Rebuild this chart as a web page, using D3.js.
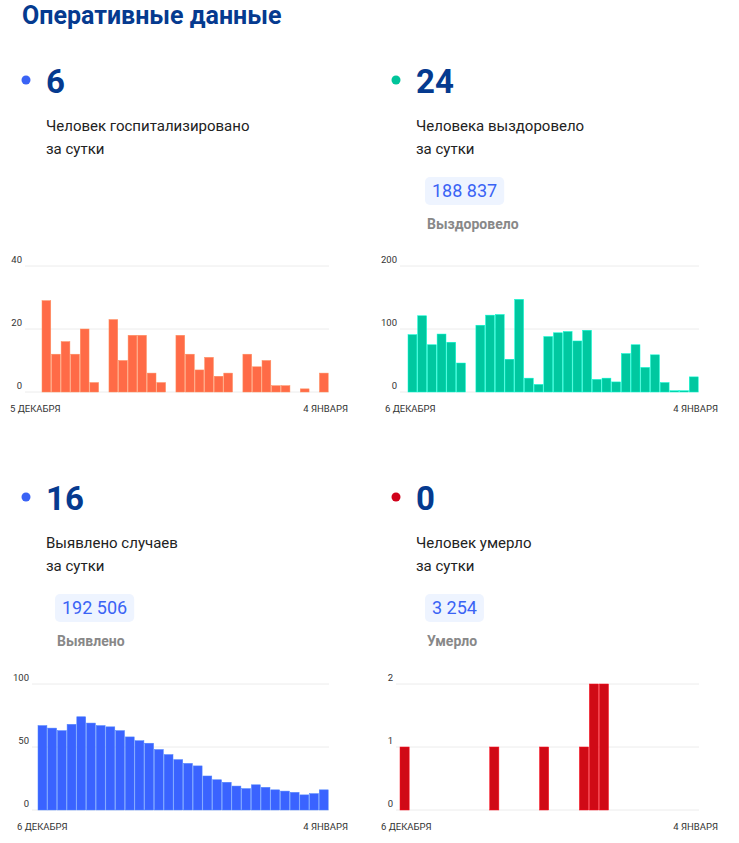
<!DOCTYPE html>
<html><head><meta charset="utf-8">
<script src="https://cdn.jsdelivr.net/npm/d3@7"></script>
<style>
body{margin:0;background:#fff;font-family:Roboto,sans-serif;}
</style></head>
<body>
<svg id="c" width="739" height="843"></svg>
<script>
// данные с графиков (по дням)
var hospital = [29,12,16,12,20,3,0,23,10,18,18,6,3,0,18,12,7,11,5,6,0,12,8,10,2,2,0,1,0,6];
var recovered = [91,121,75,92,79,46,0,106,122,123,52,147,22,12,88,94,96,81,98,20,22,16,61,75,39,59,15,2,2,24];
var cases = [67,65,63,68,74,69,67,66,63,58,55,53,48,44,40,37,35,27,24,22,19,17,20,18,16,15,14,12,13,16];
var deaths = [1,0,0,0,0,0,0,0,0,1,0,0,0,0,1,0,0,0,1,2,2,0,0,0,0,0,0,0,0,0];

var panels = [
  {x:22, y:0, dot:"#3a63f5", big:"6", l1:"Человек госпитализировано", l2:"за сутки", total:null,
   data:hospital, color:"#ff6b47", max:40, ticks:[0,20,40], x0:42, x1:329, yb:392, from:"5 ДЕКАБРЯ", to:"4 ЯНВАРЯ", gx:25},
  {x:392, y:0, dot:"#00c49a", big:"24", l1:"Человека выздоровело", l2:"за сутки", total:"188 837", tl:"Выздоровело",
   data:recovered, color:"#00c8a0", max:200, ticks:[0,100,200], x0:408, x1:699, yb:392, from:"6 ДЕКАБРЯ", to:"4 ЯНВАРЯ", gx:400},
  {x:22, y:417, dot:"#3a63f5", big:"16", l1:"Выявлено случаев", l2:"за сутки", total:"192 506", tl:"Выявлено",
   data:cases, color:"#3a63ff", max:100, ticks:[0,50,100], x0:38, x1:329, yb:810, from:"6 ДЕКАБРЯ", to:"4 ЯНВАРЯ", gx:32},
  {x:392, y:417, dot:"#d0021b", big:"0", l1:"Человек умерло", l2:"за сутки", total:"3 254", tl:"Умерло",
   data:deaths, color:"#d00a16", max:2, ticks:[0,1,2], x0:400, x1:699, yb:810, from:"6 ДЕКАБРЯ", to:"4 ЯНВАРЯ", gx:396}
];

var svg = d3.select("#c");
svg.append("text").attr("x",22).attr("y",24).attr("font-size",25).attr("font-weight",700)
  .attr("fill","#053a8f").text("Оперативные данные");

panels.forEach(function(p){
  var g = svg.append("g");
  g.append("circle").attr("cx",p.x+4).attr("cy",p.y+80).attr("r",4.5).attr("fill",p.dot);
  g.append("text").attr("x",p.x+24).attr("y",p.y+93).attr("font-size",33).attr("font-weight",700)
    .attr("fill","#053a8f").text(p.big);
  g.append("text").attr("x",p.x+24).attr("y",p.y+131).attr("font-size",15).attr("fill","#222").text(p.l1);
  g.append("text").attr("x",p.x+24).attr("y",p.y+154).attr("font-size",15).attr("fill","#222").text(p.l2);
  if(p.total){
    var t = g.append("text").attr("x",p.x+40).attr("y",p.y+197).attr("font-size",18).attr("fill","#3a63f5").text(p.total);
    var w = t.node().getComputedTextLength();
    g.insert("rect","text").attr("x",p.x+33).attr("y",p.y+177).attr("width",w+14).attr("height",28)
      .attr("rx",5).attr("fill","#eef4ff");
    g.append("text").attr("x",p.x+35).attr("y",p.y+229).attr("font-size",14).attr("font-weight",700)
      .attr("fill","#888").text(p.tl);
  }
  var yb = p.yb, yt = p.yb-126;
  var x = d3.scaleBand().domain(d3.range(p.data.length)).range([p.x0,p.x1]).padding(0);
  var y = d3.scaleLinear().domain([0,p.max]).range([yb,yt]);
  g.selectAll(".grid").data(p.ticks).enter().append("line")
    .attr("x1",p.gx).attr("x2",p.x1).attr("y1",function(d){return y(d);}).attr("y2",function(d){return y(d);})
    .attr("stroke","#ececec");
  g.selectAll(".tl").data(p.ticks).enter().append("text")
    .attr("x",p.gx-3).attr("y",function(d){return y(d)-3;}).attr("text-anchor","end")
    .attr("font-size",9.5).attr("fill","#333").text(function(d){return d;});
  g.selectAll(".bar").data(p.data).enter().append("rect")
    .attr("x",function(d,i){return x(i);}).attr("width",x.bandwidth()-0.8)
    .attr("y",function(d){return y(d);}).attr("height",function(d){return yb-y(d);})
    .attr("fill",p.color).attr("stroke",d3.color(p.color).brighter(0.8)).attr("stroke-width",0.5)
    .attr("display",function(d){return d>0?null:"none";});
  g.append("text").attr("x",p.gx-15).attr("y",yb+20).attr("font-size",9.5).attr("fill","#333").text(p.from);
  g.append("text").attr("x",p.x1+19).attr("y",yb+20).attr("text-anchor","end").attr("font-size",9.5).attr("fill","#333").text(p.to);
});
</script>
</body></html>
